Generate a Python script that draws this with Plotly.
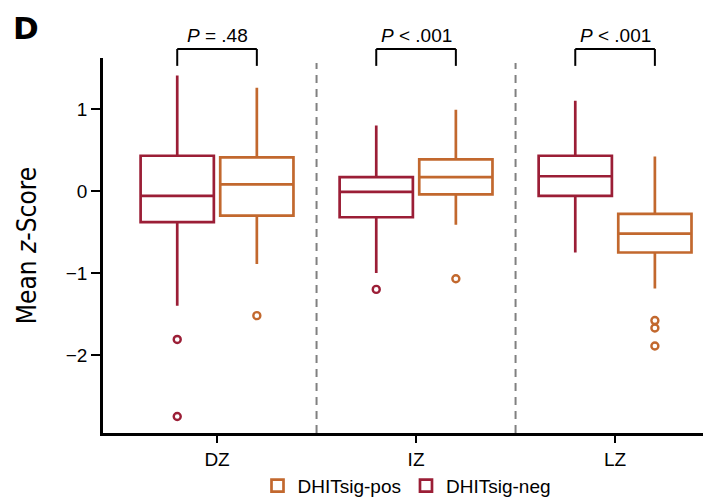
import plotly.graph_objects as go

# ---------------- data ----------------
categories = ["DZ", "IZ", "LZ"]

neg_name = "DHITsig-neg"
neg_upper = [1.41, 0.80, 1.10]
neg_q3 = [0.43, 0.17, 0.43]
neg_median = [-0.06, -0.01, 0.18]
neg_q1 = [-0.38, -0.32, -0.06]
neg_lower = [-1.40, -1.00, -0.75]
neg_outliers = [[-1.81, -2.75], [-1.20], []]

pos_name = "DHITsig-pos"
pos_upper = [1.26, 0.99, 0.42]
pos_q3 = [0.41, 0.385, -0.28]
pos_median = [0.08, 0.17, -0.52]
pos_q1 = [-0.30, -0.04, -0.75]
pos_lower = [-0.89, -0.41, -1.19]
pos_outliers = [[-1.52], [-1.07], [-1.58, -1.67, -1.89]]

p_labels = ["<i>P</i> = .48", "<i>P</i> < .001", "<i>P</i> < .001"]

y_tickvals = [-2, -1, 0, 1]
y_ticktext = ["\u22122", "\u22121", "0", "1"]

# ---------------- style ----------------
NEG_COLOR = "#9B1E36"
POS_COLOR = "#C2682E"
FONT = "Liberation Sans, Arial, sans-serif"
NARROW = "Liberation Sans Narrow, DejaVu Sans Condensed, Arial Narrow, sans-serif"
BOX_OFFSET = 0.2

fig = go.Figure()


def add_box(name, color, q1, med, q3, lo, hi, outl):
    fig.add_trace(go.Box(
        name=name,
        x=categories,
        y=outl,
        q1=q1, median=med, q3=q3,
        lowerfence=lo, upperfence=hi,
        boxpoints="outliers",
        pointpos=0, jitter=0,
        whiskerwidth=0,
        fillcolor="rgba(255,255,255,0)",
        line=dict(color=color, width=2.7),
        marker=dict(symbol="circle-open", size=7, color=color,
                    line=dict(width=2.4, color=color)),
        hoverinfo="skip",
    ))


add_box(neg_name, NEG_COLOR, neg_q1, neg_median, neg_q3, neg_lower, neg_upper, neg_outliers)
add_box(pos_name, POS_COLOR, pos_q1, pos_median, pos_q3, pos_lower, pos_upper, pos_outliers)

shapes = []
annotations = []
# dashed separators between zones
for i in range(len(categories) - 1):
    shapes.append(dict(type="line", xref="x", yref="paper",
                       x0=i + 0.5, x1=i + 0.5, y0=0, y1=0.987,
                       line=dict(color="#808080", width=2, dash="8px,6px")))
# significance brackets
for i, lab in enumerate(p_labels):
    xl, xr = i - BOX_OFFSET, i + BOX_OFFSET
    ytop, ybot = 1.024, 0.979
    for (a, b, c, d) in [(xl, ytop, xr, ytop), (xl, ytop, xl, ybot), (xr, ytop, xr, ybot)]:
        shapes.append(dict(type="line", xref="x", yref="paper",
                           x0=a, y0=b, x1=c, y1=d,
                           line=dict(color="black", width=2)))
    annotations.append(dict(xref="x", yref="paper", x=i, y=1.027,
                            text=lab, showarrow=False, yanchor="bottom",
                            font=dict(family=FONT, size=19, color="black")))

annotations.append(dict(xref="paper", yref="paper", x=-0.1513, y=1.133,
                        text="<b>D</b>", showarrow=False,
                        xanchor="left", yanchor="top",
                        font=dict(family="DejaVu Sans, sans-serif", size=31, color="black")))

fig.update_layout(
    width=703, height=490,
    margin=dict(l=95, r=0, t=50, b=65, autoexpand=False),
    paper_bgcolor="white", plot_bgcolor="white",
    boxmode="group", boxgap=0.2, boxgroupgap=0.08,
    shapes=shapes, annotations=annotations,
    showlegend=True,
    legend=dict(orientation="h", x=0.5, xanchor="center", y=-0.09, yanchor="top",
                traceorder="reversed",
                font=dict(family=FONT, size=19, color="black")),
    xaxis=dict(
        range=[-0.573, 2.482], automargin=False,
        showline=True, linecolor="black", linewidth=2.5,
        ticks="outside", ticklen=7, tickwidth=2, tickcolor="black",
        tickfont=dict(family=FONT, size=19, color="black"),
        showgrid=False, zeroline=False,
    ),
    yaxis=dict(
        range=[-2.951, 1.622], automargin=False,
        tickvals=y_tickvals, ticktext=y_ticktext,
        showline=True, linecolor="black", linewidth=2.5,
        ticks="outside", ticklen=9, tickwidth=2, tickcolor="black",
        tickfont=dict(family=FONT, size=19, color="black"),
        showgrid=False, zeroline=False,
        title=dict(text="Mean <i>z</i>-Score", standoff=22,
                   font=dict(family=NARROW, size=26, color="black")),
    ),
)

fig.write_html("out.html")
